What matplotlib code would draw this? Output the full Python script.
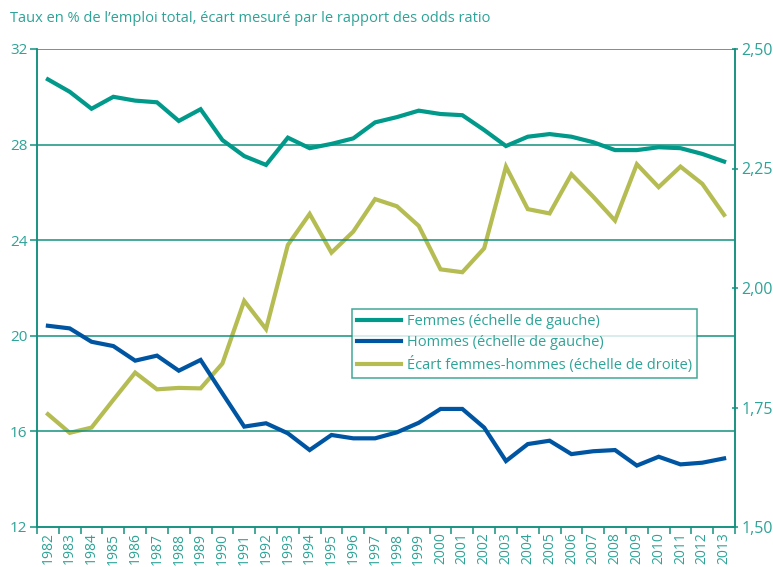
import matplotlib
matplotlib.use("Agg")
import matplotlib.pyplot as plt
import numpy as np

plt.rcParams['font.family'] = ['Open Sans', 'DejaVu Sans']

years = [str(y) for y in range(1982, 2014)]
femmes = [30.73, 30.21, 29.50, 30.00, 29.84, 29.77, 28.99, 29.48, 28.19, 27.52,
          27.15, 28.29, 27.85, 28.03, 28.26, 28.93, 29.15, 29.42, 29.28, 29.23,
          28.61, 27.94, 28.33, 28.44, 28.33, 28.10, 27.77, 27.77, 27.89, 27.85,
          27.61, 27.29]
hommes = [20.42, 20.31, 19.75, 19.57, 18.96, 19.17, 18.54, 18.99, 17.59, 16.20,
          16.34, 15.92, 15.22, 15.85, 15.71, 15.71, 15.96, 16.36, 16.94, 16.94,
          16.16, 14.76, 15.47, 15.61, 15.05, 15.17, 15.22, 14.57, 14.94, 14.62,
          14.69, 14.87]
ecart = [1.736, 1.697, 1.708, 1.766, 1.823, 1.788, 1.791, 1.790, 1.842, 1.973,
         1.914, 2.090, 2.155, 2.074, 2.118, 2.186, 2.171, 2.130, 2.039, 2.033,
         2.083, 2.254, 2.165, 2.156, 2.238, 2.191, 2.141, 2.259, 2.211, 2.254,
         2.218, 2.153]

c_fem = '#00998a'
c_hom = '#0055a2'
c_eca = '#b4bc52'
c_axe = '#13917f'
c_txt = '#2ea397'

fig = plt.figure(figsize=(7.73, 5.67), dpi=100)
ax = fig.add_axes([37/773, 40/567, 698/773, 478/567])
ax2 = ax.twinx()

x = np.arange(len(years))
l1, = ax.plot(x, femmes, color=c_fem, lw=3, solid_joinstyle='miter', label='Femmes (échelle de gauche)')
l2, = ax.plot(x, hommes, color=c_hom, lw=3, solid_joinstyle='miter', label='Hommes (échelle de gauche)')
l3, = ax2.plot(x, ecart, color=c_eca, lw=3, solid_joinstyle='miter', label='Écart femmes-hommes (échelle de droite)')

ax.set_xlim(-0.5, len(years) - 0.5)
ax.set_ylim(12, 32)
ax2.set_ylim(1.5, 2.5)
ax.set_yticks([12, 16, 20, 24, 28, 32])
ax2.set_yticks([1.5, 1.75, 2.0, 2.25, 2.5])
ax2.set_yticklabels(['1,50', '1,75', '2,00', '2,25', '2,50'])

for v in [16, 20, 24, 28, 32]:
    ax.axhline(v, color=c_axe, lw=1.1, zorder=0)

ax.set_xticks(x)
ax.set_xticklabels(years, rotation=90)
ax.set_xticks(np.arange(-0.5, len(years) + 0.5), minor=True)
ax.tick_params(axis='x', which='major', length=0, pad=4, labelsize=10, labelcolor=c_txt)
ax.tick_params(axis='x', which='minor', length=5, width=1.1, color=c_axe, direction='out')
ax.tick_params(axis='y', length=5, width=1.1, color=c_axe, labelcolor=c_txt, labelsize=11, pad=2)
ax2.tick_params(axis='y', length=5, width=1.1, color=c_axe, labelcolor=c_txt, labelsize=11.5,
                direction='inout', pad=2)

for a in (ax, ax2):
    for s in a.spines.values():
        s.set_color(c_axe)
        s.set_linewidth(1.1)
    a.spines['top'].set_visible(False)

leg = ax.legend(handles=[l1, l2, l3], loc='upper left', bbox_to_anchor=(315/698, 1 - 260/478),
                frameon=True, fancybox=False, fontsize=10.5, handlelength=3.0,
                borderpad=0.35, labelspacing=0.42, handletextpad=0.4, borderaxespad=0)
leg.get_frame().set_edgecolor(c_axe)
leg.get_frame().set_linewidth(1.1)
for t in leg.get_texts():
    t.set_color(c_txt)
leg.set_zorder(5)
ax.set_zorder(ax2.get_zorder() + 1)
ax.patch.set_visible(False)

fig.text(10/773, 1 - 18/567, "Taux en % de l’emploi total, écart mesuré par le rapport des odds ratio",
         color=c_txt, fontsize=10.5, va='center', ha='left')

fig.savefig('out.png', dpi=100)
